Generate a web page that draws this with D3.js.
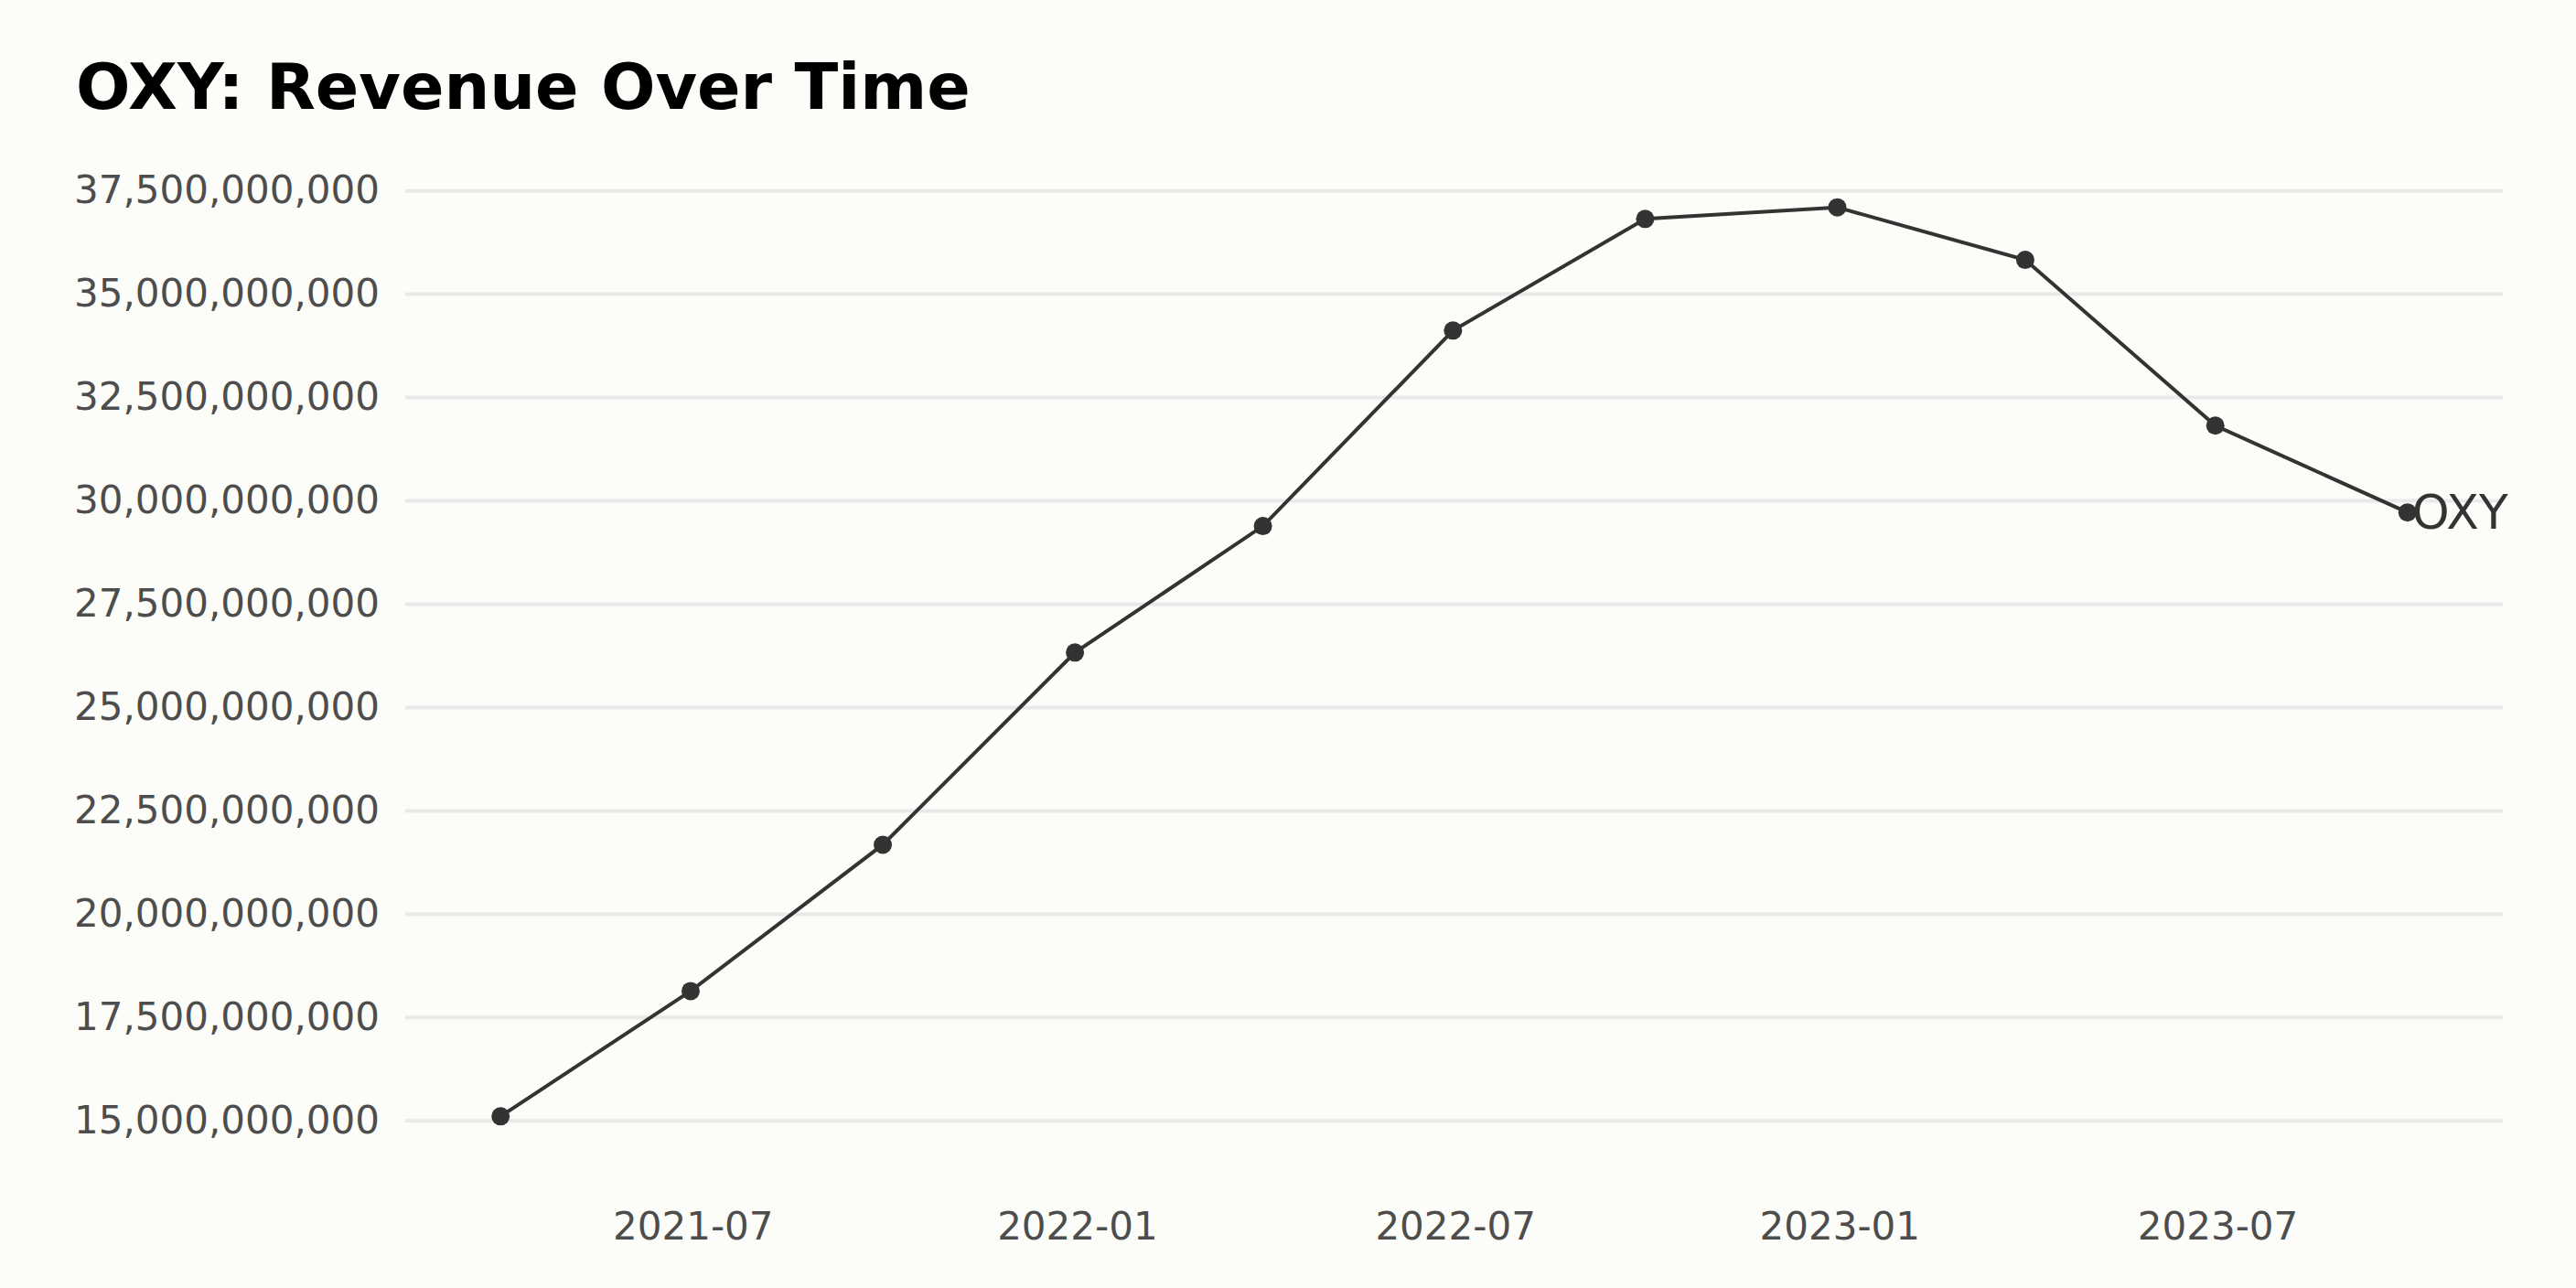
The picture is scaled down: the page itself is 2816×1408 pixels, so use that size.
<!DOCTYPE html>
<html>
<head>
<meta charset="utf-8">
<script src="https://cdn.jsdelivr.net/npm/d3@7"></script>
<style>
    body { margin: 0; background: #fcfdf8; }
    svg { display: block; }
</style>
</head>
<body>
<div id="chart"></div>
<script>
// quarter end dates and revenue
const dates = ["2021-03-31", "2021-06-30", "2021-09-30", "2021-12-31", "2022-03-31", "2022-06-30",
               "2022-09-30", "2022-12-31", "2023-03-31", "2023-06-30", "2023-09-30"];
const revenue = [15.10e9, 18.13e9, 21.67e9, 26.32e9, 29.38e9, 34.11e9,
                 36.81e9, 37.09e9, 35.82e9, 31.81e9, 29.71e9];
const ticker = "OXY";
const yTicks = [15e9, 17.5e9, 20e9, 22.5e9, 25e9, 27.5e9, 30e9, 32.5e9, 35e9, 37.5e9];
const xTicks = ["2021-07-01", "2022-01-01", "2022-07-01", "2023-01-01", "2023-07-01"];

class LineChart {
    constructor(_config, _data) {
        this.config = _config;
        this.data = _data;
        this.InitVis();
    }

    InitVis() {
        const vis = this;

        vis.config.width = 2816;
        vis.config.height = 1408;
        // plot area (gridline extent)
        vis.config.plot = {left: 443, right: 2736, top: 177, bottom: 1270};
        vis.config.font = "DejaVu Sans";

        vis.svg = d3.select(vis.config.parentElement)
            .append("svg")
            .attr("width", vis.config.width)
            .attr("height", vis.config.height);

        vis.svg.append("rect")
            .attr("width", vis.config.width)
            .attr("height", vis.config.height)
            .attr("fill", "#fcfdf8");

        vis.UpdateVis();
    }

    UpdateVis() {
        const vis = this;
        const p = vis.config.plot;

        // 5% padding on each side like matplotlib margins
        const xExt = d3.extent(vis.data, d => d.date);
        const xPad = (xExt[1] - xExt[0]) * 0.05;
        vis.x = d3.scaleTime()
            .domain([new Date(+xExt[0] - xPad), new Date(+xExt[1] + xPad)])
            .range([p.left, p.right]);

        const yExt = d3.extent(vis.data, d => d.value);
        const yPad = (yExt[1] - yExt[0]) * 0.05;
        vis.y = d3.scaleLinear()
            .domain([yExt[0] - yPad, yExt[1] + yPad])
            .range([p.bottom, p.top]);

        // title
        vis.svg.append("text")
            .attr("x", 83)
            .attr("y", 119)
            .text(`${ticker}: Revenue Over Time`)
            .style("font-family", vis.config.font)
            .style("font-weight", "bold")
            .style("font-size", "70px")
            .attr("fill", "#000");

        // horizontal gridlines + y labels
        const yAxis = d3.axisLeft(vis.y)
            .tickValues(yTicks)
            .tickSize(-(p.right - p.left))
            .tickPadding(28)
            .tickFormat(d3.format(",.0f"));

        const yG = vis.svg.append("g")
            .attr("transform", `translate(${p.left},0)`)
            .call(yAxis);
        yG.select(".domain").remove();
        yG.selectAll(".tick line")
            .attr("stroke", "#e9e9e9")
            .attr("stroke-width", 4);
        yG.selectAll(".tick text")
            .attr("fill", "#4d4d4d")
            .style("font-family", vis.config.font)
            .style("font-size", "42px");

        // x labels, no ticks
        const xAxis = d3.axisBottom(vis.x)
            .tickValues(xTicks.map(d => d3.timeParse("%Y-%m-%d")(d)))
            .tickSize(0)
            .tickPadding(0)
            .tickFormat(d3.timeFormat("%Y-%m"));

        const xG = vis.svg.append("g")
            .attr("transform", `translate(0,${p.bottom})`)
            .call(xAxis);
        xG.select(".domain").remove();
        xG.selectAll(".tick text")
            .attr("dy", null)
            .attr("y", 85)
            .attr("fill", "#4d4d4d")
            .style("font-family", vis.config.font)
            .style("font-size", "42px");

        // the line
        const line = d3.line()
            .x(d => vis.x(d.date))
            .y(d => vis.y(d.value));

        vis.svg.append("path")
            .datum(vis.data)
            .attr("d", line)
            .attr("fill", "none")
            .attr("stroke", "#333333")
            .attr("stroke-width", 4);

        vis.svg.selectAll("circle.pt")
            .data(vis.data)
            .enter()
            .append("circle")
            .attr("class", "pt")
            .attr("cx", d => vis.x(d.date))
            .attr("cy", d => vis.y(d.value))
            .attr("r", 10)
            .attr("fill", "#333333");

        // end label
        const last = vis.data[vis.data.length - 1];
        vis.svg.append("text")
            .attr("x", vis.x(last.date) + 5)
            .attr("y", vis.y(last.value))
            .attr("dominant-baseline", "central")
            .text(ticker)
            .style("font-family", vis.config.font)
            .style("font-size", "52px")
            .attr("fill", "#333333");
    }
}

const parse = d3.timeParse("%Y-%m-%d");
const chartData = dates.map((d, i) => ({date: parse(d), value: revenue[i]}));

new LineChart({parentElement: "#chart"}, chartData);
</script>
</body>
</html>
